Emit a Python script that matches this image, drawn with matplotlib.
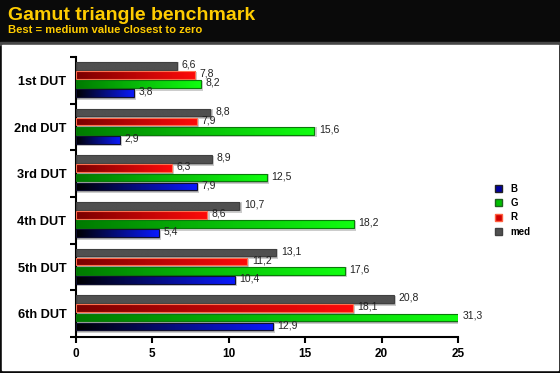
import numpy as np
import matplotlib
matplotlib.use('Agg')
from matplotlib import pyplot
from matplotlib.patches import Rectangle, Patch
from matplotlib.colors import LinearSegmentedColormap

pyplot.rcParams['font.family'] = ['Liberation Sans', 'DejaVu Sans']

# data
duts = ['1st DUT', '2nd DUT', '3rd DUT', '4th DUT', '5th DUT', '6th DUT']
med = [6.6, 8.8, 8.9, 10.7, 13.1, 20.8]
r_vals = [7.8, 7.9, 6.3, 8.6, 11.2, 18.1]
g_vals = [8.2, 15.6, 12.5, 18.2, 17.6, 31.3]
b_vals = [3.8, 2.9, 7.9, 5.4, 10.4, 12.9]
xticks = [0, 5, 10, 15, 20, 25]

# top to bottom inside each group
series = [
    ('med', med, ['#505050', '#505050'], '#404040'),
    ('R', r_vals, ['#7a0000', '#ff0a0a'], '#ff7050'),
    ('G', g_vals, ['#007a00', '#10ff10'], '#0a7a0a'),
    ('B', b_vals, ['#000000', '#0a1aff'], '#101030'),
]
offsets = [0.19, 0.385, 0.58, 0.775]
bar_h = 0.165
xmax = 25

fig = pyplot.figure(figsize=(5.6, 3.73), dpi=100)

# background: dark header band + white panel
bg = fig.add_axes([0, 0, 1, 1], zorder=-5)
bg.axis('off')
bg.add_patch(Rectangle((0, 0), 560, 373, color='#0a0a0a'))
hdr = np.linspace(0, 1, 256).reshape(1, -1)
bg.imshow(hdr, extent=[0, 560, 42, 0], aspect='auto',
          cmap=LinearSegmentedColormap.from_list('h', ['#262626', '#000000']))
bg.add_patch(Rectangle((0, 42), 560, 2.5, color='#474747'))
bg.add_patch(Rectangle((2, 44.5), 556, 325, color='white'))
bg.set_xlim(0, 560)
bg.set_ylim(373, 0)

fig.text(8 / 560, 1 - 15 / 373, 'Gamut triangle benchmark', color='#ffcc00',
         fontsize=14, fontweight='bold', va='center', ha='left')
fig.text(8 / 560, 1 - 30 / 373, 'Best = medium value closest to zero', color='#ffcc00',
         fontsize=8.1, fontweight='bold', va='center', ha='left')

ax = fig.add_axes([76 / 560, 36 / 373, 382 / 560, 280 / 373])
ax.patch.set_alpha(0)

for k, (name, vals, cols, edge) in enumerate(series):
    cmap = LinearSegmentedColormap.from_list(name, cols)
    for i, v in enumerate(vals):
        y = i + offsets[k]
        w = min(v, xmax)
        # soft shadow
        ax.barh(y + 0.035, w + 0.14, height=bar_h + 0.05, left=0,
                color='#cccccc', zorder=1)
        ax.barh(y + 0.025, w + 0.07, height=bar_h + 0.015, left=0,
                color='#a4a4a4', zorder=1.5)
        bar = ax.barh(y, w, height=bar_h, left=0, color='none',
                      edgecolor=edge, linewidth=0.8, zorder=3)[0]
        im = ax.imshow(hdr, extent=[0, w, y + bar_h / 2, y - bar_h / 2],
                       aspect='auto', cmap=cmap, zorder=2)
        im.set_clip_path(bar)
        ax.text(w + 0.3, y - 0.03, f'{v:.1f}'.replace('.', ','), fontsize=7.5,
                color='#222222', va='center', ha='left', zorder=4, clip_on=False)

ax.set_xlim(0, xmax)
ax.set_ylim(len(duts), 0)
ax.set_xticks(xticks)
ax.set_xticklabels([str(t) for t in xticks], fontweight='bold', fontsize=8.5)
ax.set_yticks(range(len(duts) + 1))
ax.set_yticklabels([])
ax.set_yticks([i + 0.5 for i in range(len(duts))], minor=True)
ax.set_yticklabels(duts, minor=True, fontweight='bold', fontsize=9.2)
ax.tick_params(axis='y', which='minor', length=0, pad=7)
ax.tick_params(axis='y', which='major', length=4, width=1.5)
ax.tick_params(axis='x', length=4, width=1.5, pad=4)
for s in ['top', 'right']:
    ax.spines[s].set_visible(False)
ax.spines['left'].set_linewidth(1.5)
ax.spines['bottom'].set_linewidth(1.5)

handles = [Patch(facecolor='#0000a0', edgecolor='#202020'),
           Patch(facecolor='#00c000', edgecolor='#206020'),
           Patch(facecolor='#d00000', edgecolor='#ff6040'),
           Patch(facecolor='#505050', edgecolor='#404040')]
fig.legend(handles, ['B', 'G', 'R', 'med'], loc='upper left',
           bbox_to_anchor=(486 / 560, 1 - 175 / 373), frameon=False,
           handlelength=0.7, handleheight=0.7, handletextpad=0.9,
           labelspacing=0.45, prop={'weight': 'bold', 'size': 7})

fig.savefig('out.png', dpi=100)
